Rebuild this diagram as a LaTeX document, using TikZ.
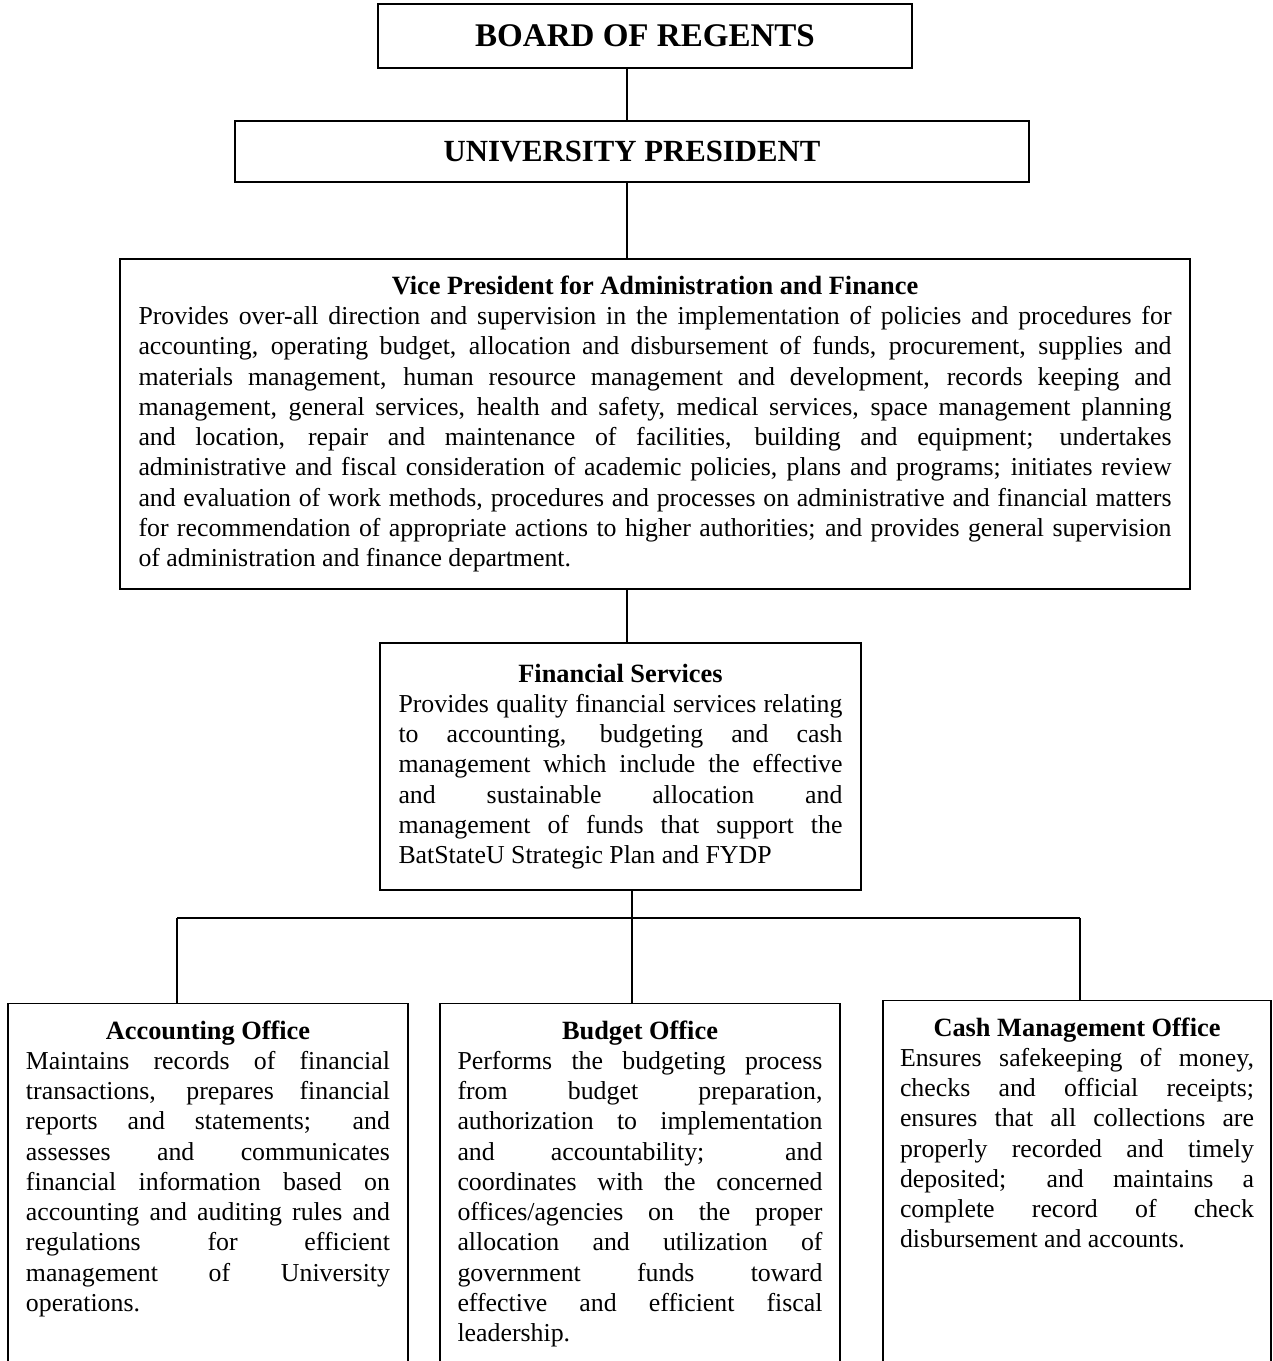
\documentclass[tikz,border=0pt]{standalone}
\usepackage{fontspec}
\setmainfont{Liberation Serif}
\usetikzlibrary{positioning,calc}
\hyphenpenalty=10000
\exhyphenpenalty=10000

\begin{document}
\begin{tikzpicture}[
  orgbox/.style={rectangle, draw=black, line width=0.8pt, inner xsep=0pt, inner ysep=0.34cm},
  desc/.style={align=justify, font=\fontsize{14.7}{17.2}\selectfont},
  link/.style={draw=black, line width=0.8pt}
]

\path[use as bounding box] (0,0) rectangle (25.46,-27.22);
\clip (0,0) rectangle (25.46,-27.22);

\node[orgbox, minimum width=10.68cm, minimum height=1.28cm, font=\fontsize{18.8}{22}\selectfont\bfseries] (bor) at (12.9,-0.72) {BOARD OF REGENTS};
\node[orgbox, minimum width=15.88cm, minimum height=1.22cm, font=\fontsize{17.5}{21}\selectfont\bfseries] (pres) at (12.64,-3.03) {UNIVERSITY PRESIDENT};

% vice president
\node[orgbox, desc, minimum width=21.4cm, minimum height=6.48cm, text width=20.66cm] (vpaf) at (13.1,-8.48) {{\centering\fontsize{15}{17.2}\selectfont\bfseries Vice President for Administration and Finance\par}
Provides over-all direction and supervision in the implementation of policies and procedures for\linebreak
accounting, operating budget, allocation and disbursement of funds, procurement, supplies and\linebreak
materials management, human resource management and development, records keeping and\linebreak
management, general services, health and safety, medical services, space management planning\linebreak
and location, repair and maintenance of facilities, building and equipment; undertakes\linebreak
administrative and fiscal consideration of academic policies, plans and programs; initiates review\linebreak
and evaluation of work methods, procedures and processes on administrative and financial matters\linebreak
for recommendation of appropriate actions to higher authorities; and provides general supervision\linebreak
of administration and finance department.};

\node[orgbox, desc, minimum width=9.62cm, minimum height=4.94cm, text width=8.88cm] (fin) at (12.41,-15.33) {{\centering\fontsize{15}{17.2}\selectfont\bfseries Financial Services\par}
Provides quality financial services relating\linebreak
to accounting, budgeting and cash\linebreak
management which include the effective\linebreak
and sustainable allocation and\linebreak
management of funds that support the\linebreak
BatStateU Strategic Plan and FYDP};

% offices
\node[orgbox, desc, anchor=north, minimum width=8cm, text width=7.28cm, text depth=7.5cm] (acct) at (4.16,-20.06) {{\centering\fontsize{15}{17.2}\selectfont\bfseries Accounting Office\par}
Maintains records of financial\linebreak
transactions, prepares financial\linebreak
reports and statements; and\linebreak
assesses and communicates\linebreak
financial information based on\linebreak
accounting and auditing rules and\linebreak
regulations for efficient\linebreak
management of University\linebreak
operations.};

\node[orgbox, desc, anchor=north, minimum width=8cm, text width=7.3cm, text depth=7.5cm] (budg) at (12.8,-20.06) {{\centering\fontsize{15}{17.2}\selectfont\bfseries Budget Office\par}
Performs the budgeting process\linebreak
from budget preparation,\linebreak
authorization to implementation\linebreak
and accountability; and\linebreak
coordinates with the concerned\linebreak
offices/agencies on the proper\linebreak
allocation and utilization of\linebreak
government funds toward\linebreak
effective and efficient fiscal\linebreak
leadership.};

\node[orgbox, desc, anchor=north, minimum width=7.76cm, text width=7.08cm, text depth=7.5cm] (cash) at (21.54,-20.0) {{\centering\fontsize{15}{17.2}\selectfont\bfseries Cash Management Office\par}
Ensures safekeeping of money,\linebreak
checks and official receipts;\linebreak
ensures that all collections are\linebreak
properly recorded and timely\linebreak
deposited; and maintains a\linebreak
complete record of check\linebreak
disbursement and accounts.};

% connectors
\coordinate (spine) at (12.54,0);
\draw[link] (bor.south -| spine) -- (pres.north -| spine);
\draw[link] (pres.south -| spine) -- (vpaf.north -| spine);
\draw[link] (vpaf.south -| spine) -- (fin.north -| spine);

\coordinate (bus) at (12.64,-18.36);
\coordinate (busL) at (3.54,-18.36);
\coordinate (busR) at (21.6,-18.36);
\draw[link] (fin.south -| bus) -- (bus);
\draw[link] (busL) -- (busR);
\draw[link] (busL) -- (busL |- acct.north);
\draw[link] (bus) -- (bus |- budg.north);
\draw[link] (busR) -- (busR |- cash.north);

\end{tikzpicture}
\end{document}
